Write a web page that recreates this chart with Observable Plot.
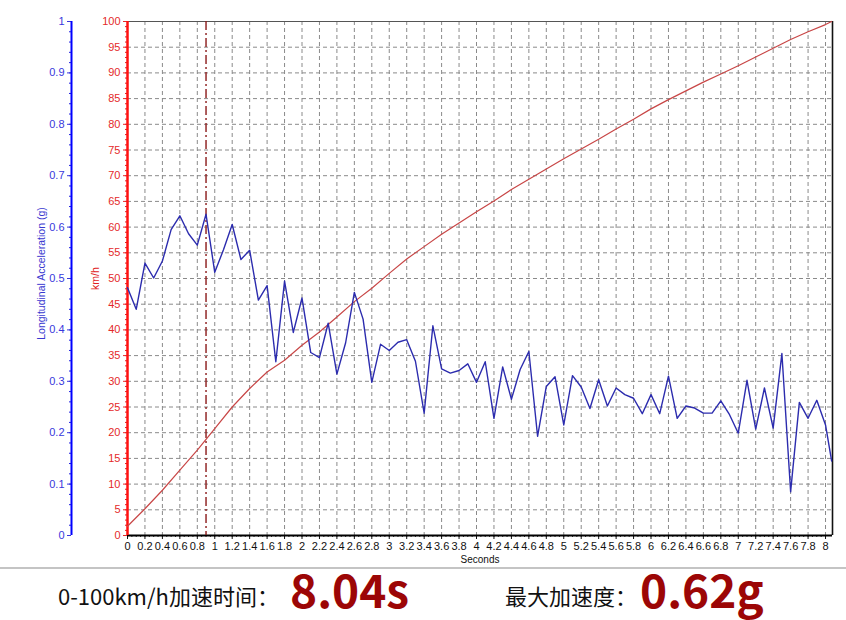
<!DOCTYPE html>
<html>
<head>
<meta charset="utf-8">
<script src="https://cdn.jsdelivr.net/npm/d3@7"></script>
<script src="https://cdn.jsdelivr.net/npm/@observablehq/plot@0.6"></script>
<style>
  html, body { margin: 0; padding: 0; background: #fff; }
  body { position: relative; width: 846px; height: 620px; }
  #sep { position: absolute; left: 0; top: 567px; width: 846px; height: 2px; background: #c4c4c4; }
  .lab { position: absolute; font-family: "Noto Sans CJK SC", "Noto Sans", sans-serif; font-size: 22px; line-height: 1.2; color: #111; white-space: nowrap; }
  .num { position: absolute; font-family: "Noto Sans CJK SC", "Noto Sans", sans-serif; font-size: 46px; line-height: 1.2; font-weight: 700; color: #9c0606; white-space: nowrap; }
</style>
</head>
<body>
<div id="chart"></div>
<div id="sep"></div>
<div class="lab" style="left:58px; top:582px;">0-100km/h加速时间：</div>
<div class="num" style="left:290px; top:561px;">8.04s</div>
<div class="lab" style="left:505px; top:582px;">最大加速度：</div>
<div class="num" style="left:640px; top:561px;">0.62g</div>
<script>
// ---- data ----
const accelTime = [0,0.1,0.2,0.3,0.4,0.5,0.6,0.7,0.8,0.9,1.0,1.1,1.2,1.3,1.4,1.5,1.6,1.7,1.8,1.9,
  2.0,2.1,2.2,2.3,2.4,2.5,2.6,2.7,2.8,2.9,3.0,3.1,3.2,3.3,3.4,3.5,3.6,3.7,3.8,3.9,
  4.0,4.1,4.2,4.3,4.4,4.5,4.6,4.7,4.8,4.9,5.0,5.1,5.2,5.3,5.4,5.5,5.6,5.7,5.8,5.9,
  6.0,6.1,6.2,6.3,6.4,6.5,6.6,6.7,6.8,6.9,7.0,7.1,7.2,7.3,7.4,7.5,7.6,7.7,7.8,7.9,8.0,8.07];
const accelG = [0.482,0.440,0.530,0.501,0.534,0.595,0.622,0.587,0.565,0.625,0.512,0.556,0.605,0.537,0.555,0.458,0.486,0.338,0.495,0.395,
  0.462,0.356,0.346,0.413,0.314,0.375,0.473,0.421,0.298,0.372,0.360,0.376,0.381,0.339,0.238,0.408,0.324,0.316,0.321,0.334,
  0.298,0.338,0.228,0.328,0.265,0.323,0.358,0.193,0.290,0.309,0.215,0.311,0.289,0.247,0.303,0.252,0.287,0.274,0.267,0.237,
  0.274,0.237,0.310,0.228,0.252,0.248,0.238,0.238,0.262,0.235,0.199,0.302,0.207,0.287,0.209,0.354,0.085,0.259,0.228,0.263,0.215,0.145];

const speedTime = [0,0.2,0.4,0.6,0.8,1.0,1.2,1.4,1.6,1.8,2.0,2.2,2.4,2.6,2.8,3.0,3.2,3.4,3.6,3.8,
  4.0,4.2,4.4,4.6,4.8,5.0,5.2,5.4,5.6,5.8,6.0,6.2,6.4,6.6,6.8,7.0,7.2,7.4,7.6,7.8,8.0,8.07];
const speedKmh = [1.8,5.2,8.8,12.7,16.6,20.8,25.0,28.6,31.8,34.1,37.0,39.6,42.5,45.5,48.1,51.0,53.8,56.2,58.6,60.8,
  63.0,65.1,67.3,69.3,71.3,73.3,75.2,77.1,79.1,81.0,83.0,84.8,86.5,88.2,89.8,91.4,93.1,94.8,96.5,98.0,99.4,100];

const peakTime = [0.9];

const xTicks = [0,0.2,0.4,0.6,0.8,1,1.2,1.4,1.6,1.8,2,2.2,2.4,2.6,2.8,3,3.2,3.4,3.6,3.8,
  4,4.2,4.4,4.6,4.8,5,5.2,5.4,5.6,5.8,6,6.2,6.4,6.6,6.8,7,7.2,7.4,7.6,7.8,8];
const kmhTicks = [0,5,10,15,20,25,30,35,40,45,50,55,60,65,70,75,80,85,90,95,100];
const gTicks = [0,0.1,0.2,0.3,0.4,0.5,0.6,0.7,0.8,0.9,1];

const xMax = 8.08;
// the g axis shares the km/h scale: 1 g  <->  100 on the y scale
const gToY = g => g * 100;

const accel = accelTime.map((t, i) => ({t, g: accelG[i]}));
const speed = speedTime.map((t, i) => ({t, v: speedKmh[i]}));

const xMinor = d3.range(0, 8.001, 0.05);
const kmhMinor = d3.range(0, 100.001, 1);
const gMinor = d3.range(0, 1.0001, 0.02).map(gToY);

const gridStyle = {stroke: "#8a8a8a", strokeDasharray: "4,3", strokeWidth: 1};

const chart = Plot.plot({
  width: 846,
  height: 567,
  marginLeft: 127,
  marginRight: 14,
  marginTop: 21,
  marginBottom: 32,
  style: {fontFamily: "'Liberation Sans', Arial, sans-serif", fontSize: "11px", background: "white", overflow: "visible"},
  x: {domain: [0, xMax]},
  y: {domain: [0, 100]},
  marks: [
    Plot.ruleX(xTicks, gridStyle),
    Plot.ruleY(kmhTicks, gridStyle),
    Plot.ruleY([100], {stroke: "#555", strokeWidth: 1.2}),
    Plot.ruleX([xMax], {stroke: "#111", strokeWidth: 1.6}),
    // x axis
    Plot.axisX(xMinor, {tickSize: 2, tickFormat: () => "", stroke: "#333", label: null}),
    Plot.axisX(xTicks, {tickSize: 4, tickPadding: 3, tickFormat: d => String(d), color: "#111", label: null}),
    Plot.ruleY([0], {stroke: "#000", strokeWidth: 2}),
    Plot.text(["Seconds"], {frameAnchor: "bottom", dy: 27, fill: "#111", fontSize: 10}),
    // km/h axis (red)
    Plot.axisY(kmhMinor, {anchor: "left", tickSize: 2, tickFormat: () => "", color: "#e02020", label: null}),
    Plot.axisY(kmhTicks, {anchor: "left", tickSize: 4, tickPadding: 3, tickFormat: d => String(d), color: "#e42a2a", label: null}),
    Plot.ruleX([0], {stroke: "#ff1010", strokeWidth: 2.5}),
    Plot.text(["km/h"], {frameAnchor: "left", dx: -32, rotate: -90, textAnchor: "middle", fill: "#e02020", fontSize: 10.5}),
    // g axis (blue)
    Plot.axisY(gMinor, {anchor: "left", dx: -56, tickSize: 2, tickFormat: () => "", color: "#2020e0", label: null}),
    Plot.axisY(gTicks.map(gToY), {anchor: "left", dx: -56, tickSize: 4, tickPadding: 3,
      tickFormat: d => String(+(d / 100).toFixed(2)), color: "#3838dc", label: null}),
    Plot.ruleX([0], {dx: -56, stroke: "#0000ff", strokeWidth: 2}),
    Plot.text(["Longitudinal Acceleration (g)"], {frameAnchor: "left", dx: -86, dy: -5, rotate: -90, textAnchor: "middle", fill: "#3838d0", fontSize: 10.5}),
    // peak marker
    Plot.ruleX(peakTime, {stroke: "#8b1a1a", strokeDasharray: "9,3,2,3", strokeWidth: 1.4}),
    // series
    Plot.line(speed, {x: "t", y: "v", stroke: "#c84646", strokeWidth: 1.2}),
    Plot.line(accel, {x: "t", y: d => gToY(d.g), stroke: "#2c2cae", strokeWidth: 1.4})
  ]
});
document.getElementById("chart").appendChild(chart);
</script>
</body>
</html>
